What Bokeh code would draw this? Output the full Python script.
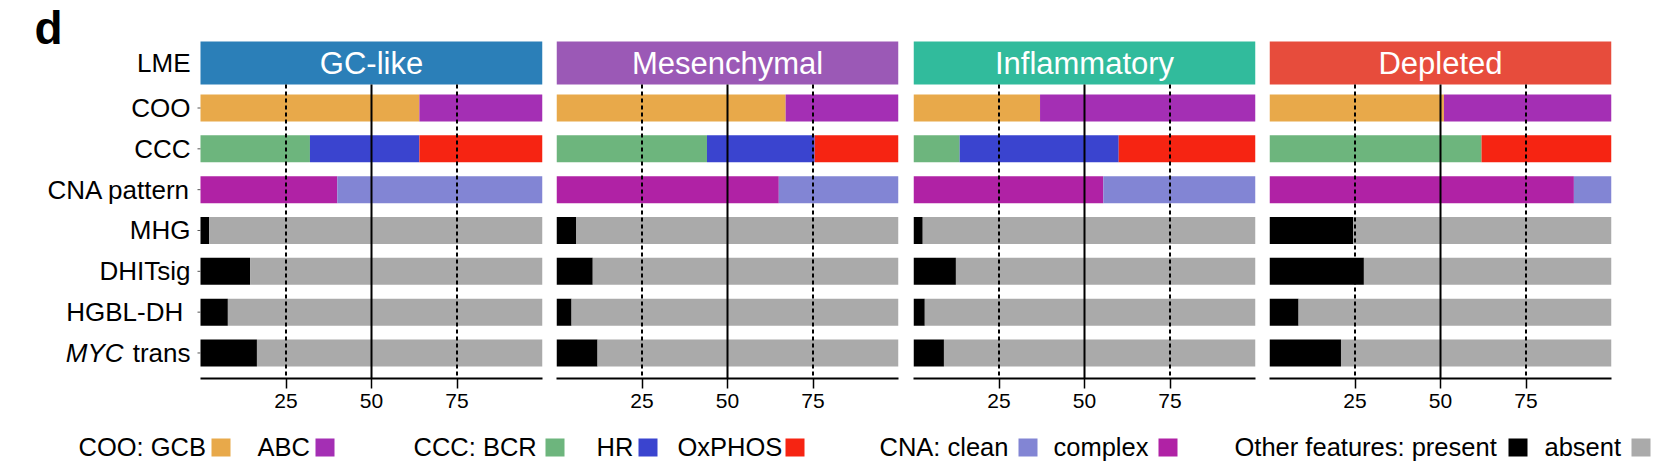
import numpy as np
from bokeh.plotting import figure
from bokeh.models import Range1d, FixedTicker, ColumnDataSource
from bokeh.layouts import row, column
from bokeh.embed import file_html
from bokeh.resources import INLINE
from bokeh.core.properties import value

# ---------------- data ----------------
panels = ["GC-like", "Mesenchymal", "Inflammatory", "Depleted"]
header_colors = ["#2B7FB8", "#9B59B6", "#31BB9C", "#E74C3C"]
row_labels = ["COO", "CCC", "CNA pattern", "MHG", "DHITsig", "HGBL-DH ", "MYC trans"]
header_label = "LME"
panel_tag = "d"

coo_gcb = [64, 67, 37, 51]            # ABC = rest
ccc_bcr = [32, 44, 13.5, 62]
ccc_hr = [32, 31.5, 46.5, 0]
ccc_oxphos = [36, 24.5, 40, 38]
cna_complex = [40, 65, 55.5, 89]      # clean = rest
mhg = [2.5, 5.8, 2.7, 24.5]           # absent = rest
dhitsig = [14.5, 10.6, 12.4, 27.6]
hgbl_dh = [8, 4.4, 3.3, 8.5]
myc_trans = [16.5, 12, 8.9, 20.9]

x_ticks = [25, 50, 75]
dashed_refs = [25, 75]
solid_refs = [50]

legend_labels = ["COO: GCB", "ABC", "CCC: BCR", "HR", "OxPHOS",
                 "CNA: clean", "complex", "Other features: present", "absent"]

# ---------------- style ----------------
C_GCB, C_ABC = "#E8A94A", "#A42FB4"
C_BCR, C_HR, C_OX = "#6DB57D", "#3A44CF", "#F62412"
C_COMPLEX, C_CLEAN = "#B022A5", "#8285D4"
C_PRESENT, C_ABSENT = "#000000", "#AAAAAA"
legend_colors = [C_GCB, C_ABC, C_BCR, C_HR, C_OX, C_CLEAN, C_COMPLEX, C_PRESENT, C_ABSENT]
legend_text_x = [78, 257, 413, 596, 677, 879, 1053, 1234, 1544]
legend_box_x = [211, 315, 545, 638, 785, 1018, 1158, 1508, 1631]

FONT = "Liberation Sans"
X0, X1 = 0, 100
FRAME_W = 342
PX = (X1 - X0) / FRAME_W          # data units per pixel
LABEL_AREA = 200                  # pixels left of first panel
BAR_H = 0.66
HEADER_Y = -1.102
HEADER_H = 1.053
Y_TOP = -2.633
Y_BOTTOM = 6.625
TAG_Y = -1.964

fig_widths = [549, 357, 356, 392]
borders_left = [0, 7, 7, 7]
borders_right = [7, 8, 7, 43]
TOP_H = 420


def row_segments(k):
    return [
        [(coo_gcb[k], C_GCB), (100 - coo_gcb[k], C_ABC)],
        [(ccc_bcr[k], C_BCR), (ccc_hr[k], C_HR), (ccc_oxphos[k], C_OX)],
        [(cna_complex[k], C_COMPLEX), (100 - cna_complex[k], C_CLEAN)],
        [(mhg[k], C_PRESENT), (100 - mhg[k], C_ABSENT)],
        [(dhitsig[k], C_PRESENT), (100 - dhitsig[k], C_ABSENT)],
        [(hgbl_dh[k], C_PRESENT), (100 - hgbl_dh[k], C_ABSENT)],
        [(myc_trans[k], C_PRESENT), (100 - myc_trans[k], C_ABSENT)],
    ]


def make_panel(k):
    x_start = X0 - LABEL_AREA * PX if k == 0 else X0
    p = figure(width=fig_widths[k], height=TOP_H,
               x_range=Range1d(x_start, X1), y_range=Range1d(Y_BOTTOM, Y_TOP),
               output_backend="svg", toolbar_location=None,
               min_border_left=borders_left[k], min_border_right=borders_right[k],
               min_border_top=0, min_border_bottom=42)
    p.outline_line_color = None
    p.xgrid.visible = False
    p.ygrid.visible = False
    p.yaxis.visible = False
    p.background_fill_color = "white"
    p.border_fill_color = "white"

    ys, lefts, rights, cols = [], [], [], []
    for i, segs in enumerate(row_segments(k)):
        vals = np.array([s[0] for s in segs], dtype=float)
        right = np.cumsum(vals)
        left = right - vals
        for j, s in enumerate(segs):
            if vals[j] <= 0:
                continue
            ys.append(i)
            lefts.append(left[j])
            rights.append(right[j])
            cols.append(s[1])
    src = ColumnDataSource(dict(y=ys, left=lefts, right=rights, color=cols))
    p.hbar(y="y", left="left", right="right", height=BAR_H, fill_color="color",
           line_color=None, source=src)

    # header strip
    p.quad(left=[X0], right=[X1], top=[HEADER_Y - HEADER_H / 2], bottom=[HEADER_Y + HEADER_H / 2],
           fill_color=header_colors[k], line_color=None)
    p.text(x=[(X0 + X1) / 2], y=[HEADER_Y], text=[panels[k]], text_align="center",
           text_baseline="middle", text_color="white", text_font=value(FONT),
           text_font_size="31px")

    # reference lines
    yb = HEADER_Y + HEADER_H / 2
    p.segment(x0=dashed_refs, x1=dashed_refs, y0=[yb] * len(dashed_refs),
              y1=[Y_BOTTOM] * len(dashed_refs), line_color="black", line_width=2,
              line_dash="4 3")
    p.segment(x0=solid_refs, x1=solid_refs, y0=[yb] * len(solid_refs),
              y1=[Y_BOTTOM] * len(solid_refs), line_color="black", line_width=2)

    # x axis
    xa = p.xaxis[0]
    xa.bounds = (X0, X1)
    xa.ticker = FixedTicker(ticks=x_ticks)
    xa.axis_line_width = 2
    xa.axis_line_color = "black"
    xa.major_tick_out = 10
    xa.major_tick_in = 0
    xa.major_tick_line_width = 1.5
    xa.major_tick_line_color = "black"
    xa.minor_tick_line_color = None
    xa.major_label_standoff = 5
    xa.major_label_text_font = FONT
    xa.major_label_text_font_size = "21px"
    xa.major_label_text_color = "black"

    if k == 0:
        n = len(row_labels)
        rows_y = list(range(n))
        # tiny row ticks
        p.segment(x0=[X0 - 3 * PX] * n, x1=[X0] * n, y0=rows_y, y1=rows_y,
                  line_color="#555555", line_width=1)
        lab_x = X0 - 10 * PX
        plain = [lab if lab != "MYC trans" else "" for lab in row_labels]
        p.text(x=[lab_x] * (n + 1), y=[HEADER_Y] + rows_y, text=[header_label] + plain,
               text_align="right", text_baseline="middle", text_font=value(FONT),
               text_font_size="26px", text_color="black")
        myc_row = row_labels.index("MYC trans")
        p.text(x=[lab_x], y=[myc_row], text=["trans"], text_align="right",
               text_baseline="middle", text_font=value(FONT), text_font_size="26px",
               text_color="black")
        p.text(x=[X0 - 77 * PX], y=[myc_row], text=["MYC"], text_align="right",
               text_baseline="middle", text_font=value(FONT), text_font_style="italic",
               text_font_size="26px", text_color="black")
        p.text(x=[X0 - 166 * PX], y=[TAG_Y], text=[panel_tag], text_align="left",
               text_baseline="middle", text_font=value(FONT), text_font_style="bold",
               text_font_size="46px", text_color="black")
    return p


panel_figs = [make_panel(k) for k in range(len(panels))]

# ---------------- legend ----------------
LEG_W, LEG_H = sum(fig_widths), 46
leg = figure(width=LEG_W, height=LEG_H, x_range=Range1d(0, LEG_W), y_range=Range1d(0, LEG_H),
             output_backend="svg", toolbar_location=None,
             min_border_left=0, min_border_right=0, min_border_top=0, min_border_bottom=0)
leg.axis.visible = False
leg.grid.visible = False
leg.outline_line_color = None
leg.text(x=legend_text_x, y=[20] * len(legend_labels), text=legend_labels,
         text_align="left", text_baseline="middle", text_font=value(FONT),
         text_font_size="25.5px", text_color="black")
leg.rect(x=[bx + 9.5 for bx in legend_box_x], y=[19] * len(legend_labels),
         width=19, height=18, fill_color=legend_colors, line_color=None)

layout = column(row(*panel_figs), leg)

with open("out.html", "w") as f:
    f.write(file_html(layout, INLINE))
